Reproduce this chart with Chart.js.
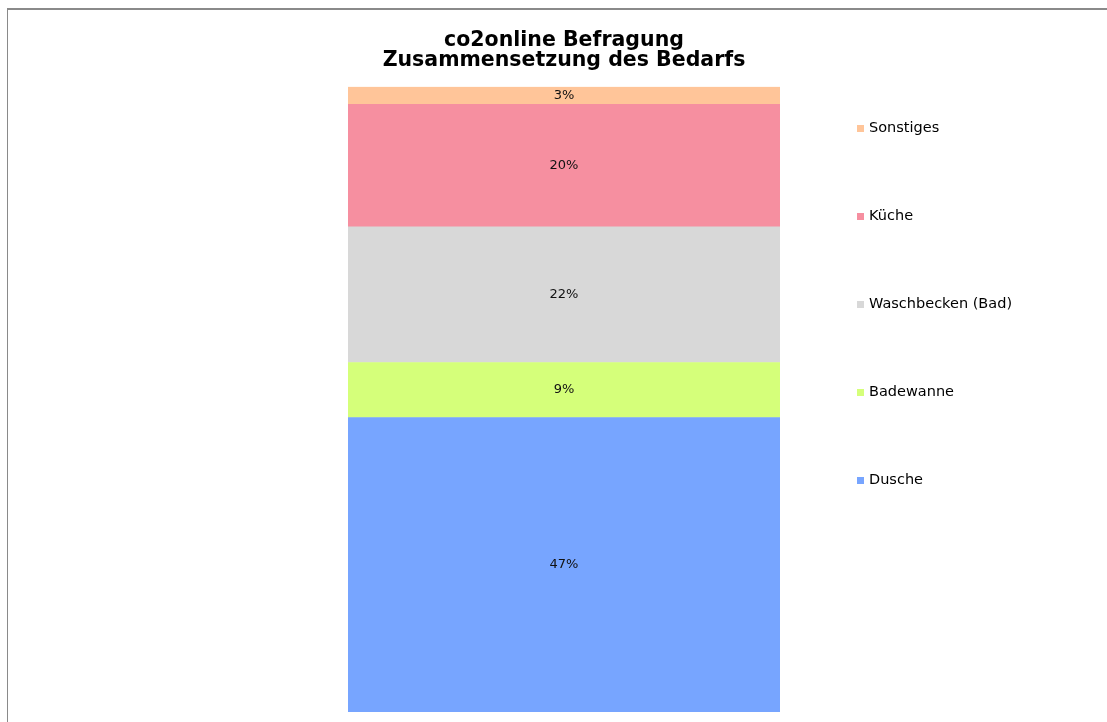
<!DOCTYPE html>
<html lang="de">
<head>
    <meta charset="UTF-8">
    <title>co2online Befragung</title>
    <style>
        html, body { margin: 0; padding: 0; background: #fff; }
        #rahmen {
            position: absolute; left: 7px; top: 8px; width: 1100px; height: 714px;
            border-top: 2px solid #8a8a8a; border-left: 1px solid #8a8a8a;
            box-sizing: border-box;
        }
        #box { position: absolute; left: 0; top: 0; width: 1107px; height: 722px; }
    </style>
</head>
<body>
    <div id="rahmen"></div>
    <div id="box">
        <canvas id="grafico" width="1107" height="722"></canvas>
    </div>

    <script src="https://cdn.jsdelivr.net/npm/chart.js"></script>

<script>
  // Werte (Anteile in %)
  const kategorien = ["Bedarf"]
  const reihen = ["Dusche", "Badewanne", "Waschbecken (Bad)", "Küche", "Sonstiges"]
  const werte = [47.1, 8.8, 21.7, 19.6, 2.8]
  const farben = ["#77a5ff", "#d5ff7a", "#d8d8d8", "#f68fa0", "#ffc599"]

  const summe = werte.reduce((a, b) => a + b, 0)
  const schrift = "'DejaVu Sans', Verdana, sans-serif"

  // Prozentwerte mittig in die Segmente schreiben
  const beschriftung = {
    id: 'beschriftung',
    afterDatasetsDraw(chart) {
      const ctx = chart.ctx
      ctx.save()
      ctx.font = "13px " + schrift
      ctx.fillStyle = "#111"
      ctx.textAlign = "center"
      ctx.textBaseline = "middle"
      chart.data.datasets.forEach((ds, i) => {
        chart.getDatasetMeta(i).data.forEach((bar, j) => {
          const p = bar.getProps(['x', 'y', 'base'], true)
          ctx.fillText(Math.round(ds.data[j]) + "%", p.x, (p.y + p.base) / 2)
        })
      })
      ctx.restore()
    }
  }

  // Legende rechts, oberste Reihe zuerst, weit auseinander
  const legende = {
    id: 'legende',
    afterDraw(chart) {
      const ctx = chart.ctx
      const x = chart.chartArea.right + 77
      let y = 128
      ctx.save()
      ctx.font = "14.5px " + schrift
      ctx.textBaseline = "middle"
      const ds = chart.data.datasets.slice().reverse()
      ds.forEach(d => {
        ctx.fillStyle = d.backgroundColor
        ctx.fillRect(x, y - 3, 7, 7)
        ctx.fillStyle = "#000"
        ctx.fillText(d.label, x + 12, y)
        y += 88
      })
      ctx.restore()
    }
  }

  const ctx = document.getElementById('grafico')

  new Chart(ctx, {
    type: 'bar',
    data: {
      labels: kategorien,
      datasets: reihen.map((r, i) => ({
        label: r,
        data: [werte[i]],
        backgroundColor: farben[i],
        borderWidth: 0,
        barPercentage: 1,
        categoryPercentage: 1
      }))
    },
    options: {
      responsive: false,
      animation: false,
      layout: { padding: { left: 348, right: 327, top: 0, bottom: 10 } },
      scales: {
        x: { stacked: true, display: false },
        y: { stacked: true, display: false, min: 0, max: summe }
      },
      plugins: {
        legend: { display: false },
        tooltip: { enabled: false },
        title: {
          display: true,
          text: ["co2online Befragung", "Zusammensetzung des Bedarfs"],
          color: "#000",
          font: { family: schrift, size: 20.5, weight: 'bold', lineHeight: 0.97 },
          padding: { top: 31, bottom: 16 }
        }
      }
    },
    plugins: [beschriftung, legende]
  })
</script>

</body>
</html>
